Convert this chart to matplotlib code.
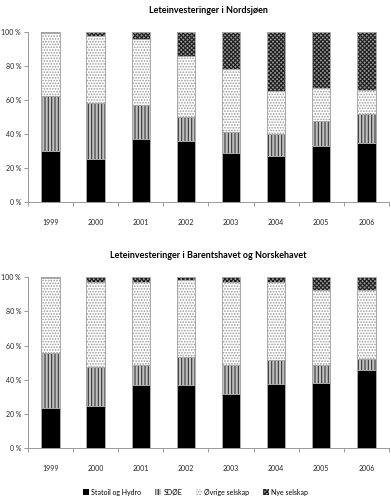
import matplotlib.pyplot as plt
from matplotlib.patches import Patch
import matplotlib as mpl

years = ["1999", "2000", "2001", "2002", "2003", "2004", "2005", "2006"]
series_names = ["Statoil og Hydro", "SDØE", "Øvrige selskap", "Nye selskap"]

# Leteinvesteringer i Nordsjøen (andel i %)
nord_statoil = [29.9, 25.0, 37.0, 35.8, 28.8, 26.8, 32.9, 34.8]
nord_sdoe = [32.3, 33.5, 19.8, 14.3, 12.5, 12.9, 14.7, 16.7]
nord_ovrige = [37.3, 39.3, 38.9, 35.6, 37.0, 25.5, 19.3, 14.6]
nord_nye = [0.5, 2.2, 4.3, 14.3, 21.7, 34.8, 33.1, 33.9]

# Leteinvesteringer i Barentshavet og Norskehavet (andel i %)
bar_statoil = [23.3, 24.7, 36.6, 36.6, 31.9, 37.2, 38.0, 45.4]
bar_sdoe = [32.1, 22.9, 12.1, 16.4, 16.4, 14.3, 10.5, 6.9]
bar_ovrige = [44.1, 49.4, 48.3, 45.2, 49.0, 45.5, 44.1, 40.3]
bar_nye = [0.5, 3.0, 3.0, 1.8, 2.7, 3.0, 7.4, 7.4]

plt.rcParams['font.family'] = ['Lato', 'DejaVu Sans']
mpl.rcParams['hatch.linewidth'] = 0.8

# face colour, hatch, hatch colour for each series
styles = [
    ("#000000", None, "#000000"),
    ("#c0c0c0", "|||||", "#3a3a3a"),
    ("#ffffff", "......", "#9a9a9a"),
    ("#9a9a9a", "xxxxxxxx", "#1e1e1e"),
]
edge = "#a8a8a8"


def draw_chart(ax, title, segments):
    x = range(len(years))
    bottom = [0] * len(years)
    for vals, (fc, hatch, hc) in zip(segments, styles):
        ax.bar(x, vals, bottom=bottom, width=0.41, color=fc, hatch=hatch,
               edgecolor=hc, linewidth=0)
        ax.bar(x, vals, bottom=bottom, width=0.41, fill=False,
               edgecolor=edge, linewidth=0.7)
        bottom = [b + v for b, v in zip(bottom, vals)]

    ax.set_xlim(-0.5, len(years) - 0.5)
    ax.set_ylim(0, 100)
    ax.set_yticks(range(0, 101, 20))
    ax.set_yticklabels([f"{v} %" for v in range(0, 101, 20)])
    ax.set_xticks(list(x))
    ax.set_xticklabels(years)
    ax.set_xticks([i + 0.5 for i in range(-1, len(years))], minor=True)
    ax.tick_params(axis='x', which='major', length=0, pad=12, labelsize=5, colors='#222222')
    ax.tick_params(axis='x', which='minor', length=3, color='#999999', width=0.7)
    ax.tick_params(axis='y', length=3, width=0.7, labelsize=5, pad=2,
                   colors='#999999', labelcolor='#222222')
    for s in ['top', 'right']:
        ax.spines[s].set_visible(False)
    for s in ['left', 'bottom']:
        ax.spines[s].set_color('#999999')
        ax.spines[s].set_linewidth(0.7)
    ax.set_title(title, fontsize=6.5, fontweight='bold', pad=14)


fig = plt.figure(figsize=(3.91, 4.98), dpi=100)
ax1 = fig.add_axes([0.0716, 0.5944, 0.923, 0.3414])
ax2 = fig.add_axes([0.0716, 0.1004, 0.923, 0.343])

draw_chart(ax1, "Leteinvesteringer i Nordsjøen",
           [nord_statoil, nord_sdoe, nord_ovrige, nord_nye])
draw_chart(ax2, "Leteinvesteringer i Barentshavet og Norskehavet",
           [bar_statoil, bar_sdoe, bar_ovrige, bar_nye])

handles = [Patch(facecolor=fc, hatch=h, edgecolor=hc, linewidth=0)
           for fc, h, hc in styles]
fig.legend(handles, series_names, loc='center', bbox_to_anchor=(0.5, 0.012),
           ncol=4, frameon=False, fontsize=5, handlelength=0.9, handleheight=0.9,
           handletextpad=0.3, columnspacing=2.0)

fig.savefig("out.png", dpi=100)
